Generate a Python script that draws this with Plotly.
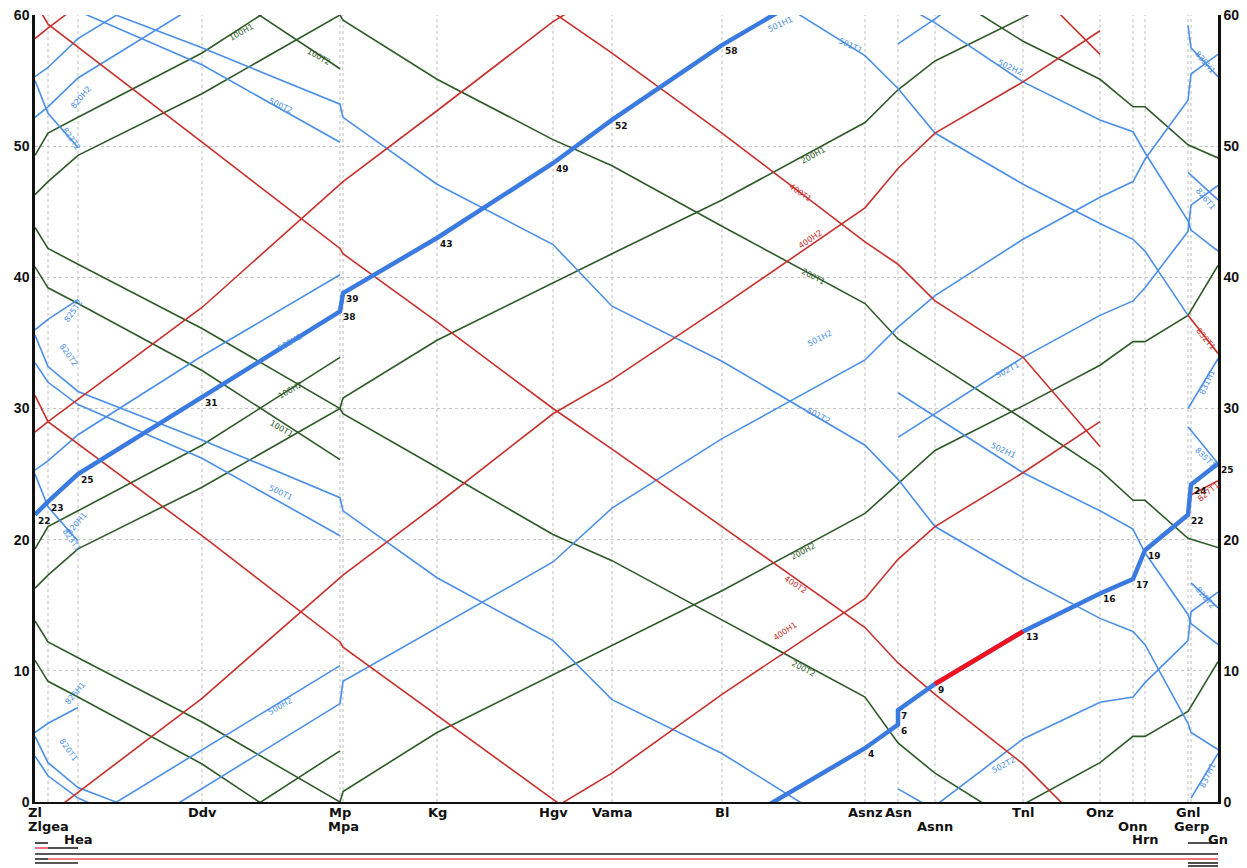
import plotly.graph_objects as go

# ---------------- data ----------------
STATIONS = ["Zl", "Zlgea", "Hea", "Ddv", "Mp", "Mpa", "Kg", "Hgv", "Vama", "Bl",
            "Asnz", "Asn", "Asnn", "Tnl", "Onz", "Onn", "Hrn", "Gnl", "Gerp", "Gn"]
KM = [0.0, 1.3, 4.3, 16.7, 30.5, 30.8, 40.2, 51.8, 57.7, 68.7,
      83.0, 86.3, 90.0, 98.8, 106.5, 109.8, 111.0, 115.3, 115.6, 118.3]
LABEL_ROW = [0, 1, 2, 0, 0, 1, 0, 0, 0, 0, 0, 0, 1, 0, 0, 1, 2, 0, 1, 2]
Y_TICKS = [0, 10, 20, 30, 40, 50, 60]
PERIOD = 60

# red (400 series)
R400H1 = dict(Zl=28.2, Zlgea=29.0, Ddv=37.7, Mp=47.1, Mpa=47.3, Kg=52.7, Hgv=59.5, Vama=62.2,
              Bl=68.2, Asnz=75.5, Asn=78.5, Asnn=81.0, Tnl=85.1, Onz=89.0)
R400H2 = dict(Zl=-1.8, Zlgea=-1.0, Ddv=7.9, Mp=17.1, Mpa=17.3, Kg=22.7, Hgv=29.6, Vama=32.2,
              Bl=37.8, Asnz=45.3, Asn=48.3, Asnn=51.0, Tnl=54.9, Onz=58.8)
R400T1 = dict(Onz=27.1, Tnl=33.9, Asnn=38.2, Asn=41.0, Asnz=42.7, Bl=51.0, Vama=57.1, Hgv=60.2,
              Kg=66.6, Mpa=71.8, Mp=72.2, Ddv=80.3, Zlgea=89.0, Zl=91.0)
R400T2 = dict(Onz=57.0, Tnl=62.9, Asnn=68.2, Asn=70.6, Asnz=73.3, Bl=81.0, Vama=86.9, Hgv=90.0,
              Kg=96.6, Mpa=101.8, Mp=102.2, Ddv=110.3, Zlgea=119.3, Zl=121.0)
R832T1 = dict(Gnl=37.1, Gn=34.2)
R827T1 = dict(Gerp=23.4, Gn=24.5)

# green (100 / 200 series)
G100H1 = dict(Zl=49.3, Zlgea=51.0, Hea=52.2, Ddv=57.1, Mp=63.9)
G100H2 = dict(Zl=19.3, Zlgea=21.0, Hea=22.2, Ddv=27.2, Mp=33.9)
G100T1 = dict(Mp=26.1, Ddv=32.9, Hea=38.0, Zlgea=39.2, Zl=40.8)
G100T2 = dict(Mp=55.9, Ddv=62.9, Hea=68.0, Zlgea=69.2, Zl=70.8)
G200H1 = dict(Zl=16.3, Zlgea=17.3, Hea=19.3, Ddv=24.0, Mp=30.0, Mpa=30.8, Kg=35.2, Hgv=39.6,
              Vama=41.8, Bl=45.9, Asnz=51.8, Asn=54.3, Asnn=56.5, Tnl=59.8, Onz=63.0,
              Onn=65.0, Hrn=65.0, Gnl=66.9, Gn=70.7)
G200H2 = dict(Zl=46.3, Zlgea=47.3, Hea=49.3, Ddv=54.0, Mp=60.0, Mpa=60.8, Kg=65.3, Hgv=69.7,
              Vama=71.9, Bl=76.1, Asnz=82.0, Asn=84.3, Asnn=86.8, Tnl=90.2, Onz=93.3,
              Onn=95.1, Hrn=95.1, Gnl=97.1, Gn=100.9)
G200T1 = dict(Gn=19.4, Gnl=20.1, Hrn=23.0, Onn=23.0, Onz=25.3, Tnl=29.2, Asnn=33.5, Asn=35.3,
              Asnz=38.0, Bl=43.9, Vama=48.5, Hgv=50.5, Kg=55.1, Mpa=59.6, Mp=60.0, Ddv=66.1,
              Hea=71.0, Zlgea=72.2, Zl=73.8)
G200T2 = dict(Gn=-10.9, Gnl=-9.9, Hrn=-7.0, Onn=-7.0, Onz=-4.9, Tnl=-2.0, Asnn=2.2, Asn=4.5,
              Asnz=8.0, Bl=13.9, Vama=18.4, Hgv=20.4, Kg=25.5, Mpa=29.6, Mp=30.0, Ddv=36.1,
              Hea=41.0, Zlgea=42.2, Zl=43.8)

# blue (500 / 501 / 502 / 82x / 83x series)
B820H2 = dict(Zl=52.2, Zlgea=53.0, Hea=55.2, Ddv=61.0, Mp=67.5, Mpa=69.2, Kg=73.3, Hgv=78.3,
              Vama=82.4, Bl=87.7, Asnz=93.7, Asn=96.2, Asnn=98.6, Tnl=102.9, Onz=106.1,
              Onn=107.3, Hrn=109.0, Gnl=113.5, Gerp=115.5, Gn=117.0)
B500H1 = dict(Zl=25.3, Zlgea=26.0, Hea=28.0, Ddv=34.0, Mp=40.2)
B500H2 = dict(Zl=55.3, Zlgea=56.0, Hea=58.2, Ddv=64.0, Mp=70.4)
B500T1 = dict(Mp=20.3, Ddv=26.2, Hea=30.3, Zlgea=32.0, Zl=33.5)
B500T2 = dict(Mp=50.3, Ddv=56.2, Hea=60.3, Zlgea=62.0, Zl=63.5)
B820T1 = dict(Gn=4.0, Gerp=5.3, Gnl=6.0, Hrn=12.0, Onn=13.0, Onz=14.0, Tnl=17.1, Asnn=21.0,
              Asn=24.6, Asnz=27.2, Bl=33.6, Vama=37.8, Hgv=42.5, Kg=47.1, Mpa=52.2, Mp=53.2,
              Ddv=57.5, Hea=61.1, Zlgea=63.0, Zl=65.0)
B820T2 = dict(Gnl=37.1, Hrn=42.0, Onn=42.9, Onz=44.1, Tnl=47.1, Asnn=51.0, Asn=54.4, Asnz=56.9,
              Bl=63.7, Vama=67.8, Hgv=72.3, Kg=77.1, Mpa=82.2, Mp=83.2, Ddv=87.6, Hea=91.3,
              Zlgea=93.2, Zl=95.6)
B502H1 = dict(Gn=12.0, Gerp=13.6, Gnl=14.3, Hrn=19.0, Onn=20.8, Onz=22.2, Tnl=25.1, Asnn=29.4, Asn=31.2)
B502H2 = dict(Gn=42.0, Gerp=43.6, Gnl=44.3, Hrn=49.5, Onn=51.1, Onz=52.0, Tnl=54.9, Asnn=59.4, Asn=61.0)
B502T1 = dict(Asn=27.8, Asnn=29.6, Tnl=33.9, Onz=37.1, Onn=38.2, Hrn=39.2, Gnl=43.5, Gerp=45.5, Gn=47.0)
B502T2 = dict(Asn=57.8, Asnn=59.7, Tnl=64.8, Onz=67.6, Onn=68.0, Hrn=69.1, Gnl=72.3, Gerp=74.5, Gn=76.0)
B823T2 = dict(Hea=49.9, Zlgea=52.5, Zl=55.0)
B823T1 = dict(Hea=19.9, Zlgea=22.5, Zl=25.0)
B825T2 = dict(Zl=36.0, Zlgea=36.8, Hea=38.3)
B825H1 = dict(Zl=5.3, Zlgea=6.0, Hea=7.2)
B835H1 = dict(Gnl=59.2, Gerp=57.5, Gn=55.3)
B826T1 = dict(Gnl=48.0, Gn=45.9)
B835T1 = dict(Gnl=28.6, Gn=25.8)
B831H1 = dict(Gnl=30.0, Gn=33.8)
B837H1 = dict(Gerp=60.3, Gn=63.7)
B828T2 = dict(Gerp=16.7, Gn=14.8)

RED_TRAINS = [R400H1, R400H2, R400T1, R400T2, R832T1, R827T1]
GREEN_TRAINS = [G100H1, G100H2, G100T1, G100T2, G200H1, G200H2, G200T1, G200T2]
BLUE_TRAINS = [B820H2, B500H1, B500H2, B500T1, B500T2, B820T1, B820T2, B502H1, B502H2,
               B502T1, B502T2, B823T2, B823T1, B825T2, B825H1, B835H1, B826T1, B835T1,
               B831H1, B837H1, B828T2]

# highlighted journey
J_ST = ["Zl", "Zlgea", "Hea", "Ddv", "Mp", "Mpa", "Kg", "Hgv", "Vama", "Bl", "Asnz", "Asn",
        "Asn", "Asnn", "Tnl", "Onz", "Onn", "Hrn", "Gnl", "Gerp", "Gn"]
J_MIN = [21.9, 22.9, 25.0, 30.9, 37.4, 38.8, 43.0, 48.7, 52.0, 57.7, 64.1, 65.9,
         67.0, 69.0, 73.0, 75.9, 77.0, 79.2, 81.9, 84.2, 85.8]
J_LABEL = ["22", "23", "25", "31", "38", "39", "43", "49", "52", "58", "4", "6",
           "7", "9", "13", "16", "17", "19", "22", "24", "25"]
J_RED_ST = ["Asnn", "Tnl"]
J_RED_MIN = [69.0, 73.0]

# train labels: text, km, minute, angle, colour key
TRAIN_LABELS = [
    ("100H1", 20.6, 58.7, -30, "g"), ("100T2", 28.3, 56.8, 30, "g"),
    ("100H2", 25.5, 31.4, -30, "g"), ("100T1", 24.6, 28.5, 30, "g"),
    ("200H1", 77.8, 49.3, -28, "g"), ("200T1", 77.8, 40.1, 28, "g"),
    ("200H2", 76.8, 19.1, -28, "g"), ("200T2", 76.8, 10.2, 28, "g"),
    ("400T1", 76.5, 46.5, 34, "r"), ("400H2", 77.5, 42.9, -34, "r"),
    ("400T2", 76.0, 16.6, 34, "r"), ("400H1", 75.0, 13.0, -34, "r"),
    ("500T2", 24.5, 53.1, 25, "b"), ("500H1", 25.5, 35.0, -30, "b"),
    ("500T1", 24.5, 23.6, 25, "b"), ("500H2", 24.5, 7.3, -30, "b"),
    ("501H1", 74.5, 59.3, -25, "b"), ("501T1", 81.5, 57.7, 25, "b"),
    ("501H2", 78.5, 35.3, -27, "b"), ("501T2", 78.3, 29.5, 27, "b"),
    ("502H2", 97.5, 56.0, 25, "b"), ("502T1", 97.2, 32.9, -28, "b"),
    ("502H1", 96.8, 26.8, 25, "b"), ("502T2", 96.8, 2.8, -28, "b"),
    ("820H2", 4.6, 53.7, -50, "b"), ("823T2", 3.6, 50.6, 55, "b"),
    ("825T2", 3.8, 37.4, -55, "b"), ("820T2", 3.3, 34.1, 55, "b"),
    ("820H1", 4.2, 21.2, -50, "b"), ("823T1", 3.6, 20.0, 55, "b"),
    ("825H1", 4.0, 8.3, -50, "b"), ("820T1", 3.3, 4.0, 55, "b"),
    ("835H1", 117.0, 56.4, 50, "b"), ("826T1", 117.0, 46.0, 50, "b"),
    ("832T1", 117.0, 35.3, 50, "r"), ("831H1", 117.2, 32.0, -65, "b"),
    ("835T1", 117.0, 26.3, 45, "b"), ("827T1", 117.3, 23.6, -40, "r"),
    ("828T2", 117.0, 15.6, 50, "b"), ("837H1", 117.3, 2.0, -65, "b"),
]

# track diagram under the chart: from station, to station, row, colour key
TRACKS = [
    ("Zl", "Zlgea", 0, "k"),
    ("Zl", "Zlgea", 1, "r"), ("Zlgea", "Hea", 1, "k"),
    ("Zl", "Gn", 2, "k"),
    ("Zl", "Zlgea", 3, "k"), ("Zlgea", "Gnl", 3, "r"), ("Gnl", "Gn", 3, "r"),
    ("Zl", "Hea", 4, "k"),
    ("Gnl", "Gn", 0, "k"), ("Gnl", "Gn", 4, "k"), ("Gnl", "Gn", 5, "k"),
]

# ---------------- styles ----------------
COL = {"r": "#c8302c", "g": "#2e5a28", "b": "#4b8fe6", "k": "#222222"}
TRACK_RED = "#e8505a"
THICK_COL = "#3b7bdf"
BRIGHT_RED = "#f2121e"
FONT = "DejaVu Sans"
XMAX = KM[-1]
PLOT_H = 787  # pixel height of the plotting area
TRACK_ROW_PX = [41, 46, 52, 57, 61, 64]

km_of = dict(zip(STATIONS, KM))


def wrapped(stations, minutes):
    xs, ys = [], []
    for off in (-PERIOD, 0, PERIOD):
        xs += [km_of[s] for s in stations] + [None]
        ys += [m + off for m in minutes] + [None]
    return xs, ys


def train_xy(tt):
    items = sorted(tt.items(), key=lambda kv: km_of[kv[0]])
    return wrapped([k for k, _ in items], [v for _, v in items])


fig = go.Figure()

for trains, key in ((GREEN_TRAINS, "g"), (BLUE_TRAINS, "b"), (RED_TRAINS, "r")):
    for tt in trains:
        xs, ys = train_xy(tt)
        fig.add_trace(go.Scatter(x=xs, y=ys, mode="lines",
                                 line=dict(color=COL[key], width=1.6),
                                 hoverinfo="skip"))

# highlighted journey
xs, ys = wrapped(J_ST, J_MIN)
fig.add_trace(go.Scatter(x=xs, y=ys, mode="lines",
                         line=dict(color=THICK_COL, width=4.5), hoverinfo="skip"))
xs, ys = wrapped(J_RED_ST, J_RED_MIN)
fig.add_trace(go.Scatter(x=xs, y=ys, mode="lines",
                         line=dict(color=BRIGHT_RED, width=4.5), hoverinfo="skip"))

# invisible trace for right axis
fig.add_trace(go.Scatter(x=[None], y=[None], yaxis="y2", hoverinfo="skip"))

annotations = []
for s, m, lab in zip(J_ST, J_MIN, J_LABEL):
    annotations.append(dict(x=km_of[s], y=m % PERIOD, xref="x", yref="y", text=lab,
                            showarrow=False, xanchor="left", yanchor="top",
                            xshift=1, yshift=1,
                            font=dict(family=FONT, size=9, color="#111111", weight="bold")))

for text, km, m, ang, key in TRAIN_LABELS:
    annotations.append(dict(x=km, y=m, xref="x", yref="y", text=text, showarrow=False,
                            textangle=ang, font=dict(family=FONT, size=8, color=COL[key])))

row_shift = [0, -14, -27]
for s, km, row in zip(STATIONS, KM, LABEL_ROW):
    annotations.append(dict(x=km, y=0, xref="x", yref="paper", text=s, showarrow=False,
                            xanchor="center", yanchor="top", yshift=row_shift[row] - 1,
                            font=dict(family=FONT, size=13, color="#111111", weight="bold")))

shapes = []
for km in KM[1:-1]:
    shapes.append(dict(type="line", xref="x", yref="paper", x0=km, x1=km, y0=0, y1=1,
                       line=dict(color="#bdbdbd", width=1, dash="dot"), layer="below"))

for a, b, row, key in TRACKS:
    yp = -(TRACK_ROW_PX[row]) / PLOT_H
    shapes.append(dict(type="line", xref="paper", yref="paper",
                       x0=km_of[a] / XMAX, x1=km_of[b] / XMAX, y0=yp, y1=yp,
                       line=dict(color=TRACK_RED if key == "r" else COL[key], width=1.6)))

tick_font = dict(family="Liberation Sans", size=14, color="#111111", weight="bold")
# the page body adds an 8px offset, so the figure is 8px smaller on each leading side
fig.update_layout(
    width=1239, height=860,
    margin=dict(l=27, r=29, t=7, b=66, autoexpand=False),
    plot_bgcolor="white", paper_bgcolor="white", showlegend=False,
    xaxis=dict(range=[0, XMAX], showgrid=False, zeroline=False, showticklabels=False,
               ticks="", showline=True, linecolor="#111111", linewidth=2),
    yaxis=dict(range=[0, 60], tickvals=Y_TICKS, showgrid=True, gridcolor="#c4c4c4",
               griddash="dot", gridwidth=1, zeroline=False, showline=True,
               linecolor="#111111", linewidth=2.5, ticks="", tickfont=tick_font,
               ticklabeloverflow="allow"),
    yaxis2=dict(range=[0, 60], tickvals=Y_TICKS, overlaying="y", side="right",
                showgrid=False, zeroline=False, showline=True, linecolor="#111111",
                linewidth=2.5, ticks="", tickfont=tick_font, ticklabeloverflow="allow"),
    annotations=annotations, shapes=shapes,
)

fig.write_html("out.html")
